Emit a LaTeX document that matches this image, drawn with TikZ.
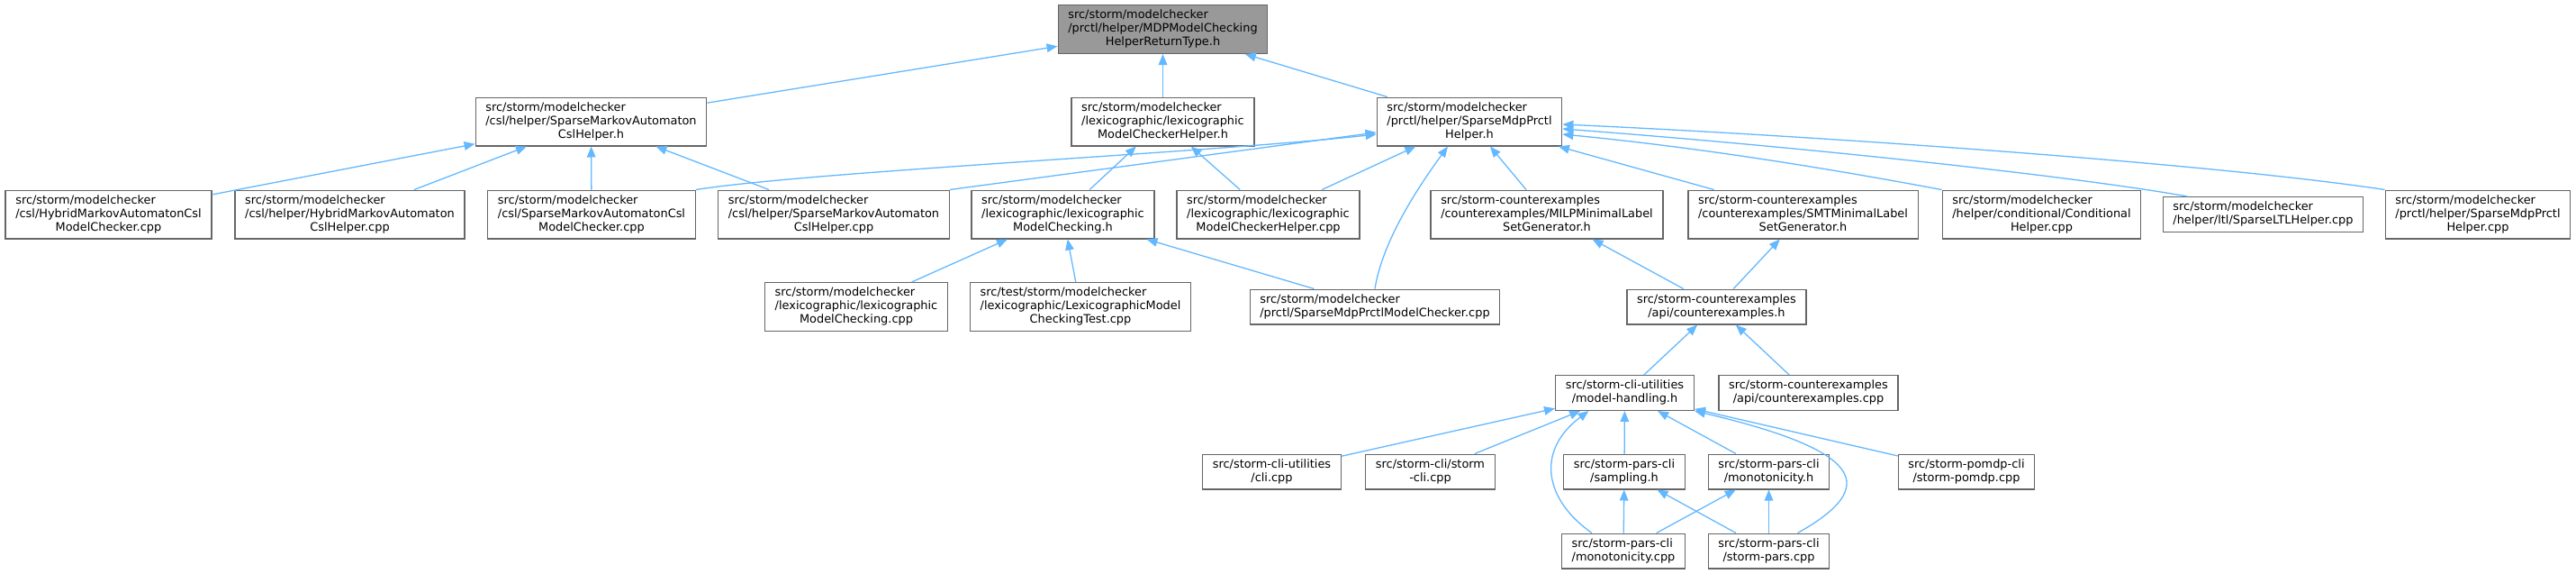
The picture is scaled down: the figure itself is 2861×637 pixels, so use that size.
\documentclass[tikz,border=0pt]{standalone}
\usepackage{fontspec}
\setmainfont{DejaVu Sans}
\usepackage{xcolor}
\usepackage{tikz}
\usetikzlibrary{arrows.meta}
\definecolor{edgeblue}{HTML}{63B8FF}
\definecolor{framegrey}{HTML}{666666}
\definecolor{rootgrey}{HTML}{999999}
% file label: upper lines flush left, last line centred
\newcommand{\fname}[2]{\begin{tabular}{@{}l@{}}#1\\\multicolumn{1}{@{}c@{}}{#2}\end{tabular}}

\begin{document}
\begin{tikzpicture}[
    x=0.5pt, y=-0.5pt,
    file/.style={rectangle, draw=framegrey, line width=0.6pt, fill=white, inner xsep=5.6pt, inner ysep=2.2pt, font=\fontsize{6.45}{7.5}\selectfont},
    root/.style={file, fill=rootgrey},
    dep/.style={draw=edgeblue, line width=0.65pt, -{Triangle[length=6pt, width=4.8pt]}},
]
\useasboundingbox (0,0) rectangle (2861,637);

% rank 0
\node[root] (root) at (1291.5,32.5) {\fname{src/storm/modelchecker\\/prctl/helper/MDPModelChecking}{HelperReturnType.h}};

% rank 1
\node[file] (cslh) at (656.5,135) {\fname{src/storm/modelchecker\\/csl/helper/SparseMarkovAutomaton}{CslHelper.h}};
\node[file] (lexh) at (1291.5,135) {\fname{src/storm/modelchecker\\/lexicographic/lexicographic}{ModelCheckerHelper.h}};
\node[file] (mdph) at (1632,135) {\fname{src/storm/modelchecker\\/prctl/helper/SparseMdpPrctl}{Helper.h}};

% rank 2
\node[file] (hybmc) at (120.5,238) {\fname{src/storm/modelchecker\\/csl/HybridMarkovAutomatonCsl}{ModelChecker.cpp}};
\node[file] (hybh) at (388.5,238) {\fname{src/storm/modelchecker\\/csl/helper/HybridMarkovAutomaton}{CslHelper.cpp}};
\node[file] (spmc) at (657,238) {\fname{src/storm/modelchecker\\/csl/SparseMarkovAutomatonCsl}{ModelChecker.cpp}};
\node[file] (sph) at (926,238) {\fname{src/storm/modelchecker\\/csl/helper/SparseMarkovAutomaton}{CslHelper.cpp}};
\node[file] (lexmc) at (1180.5,238) {\fname{src/storm/modelchecker\\/lexicographic/lexicographic}{ModelChecking.h}};
\node[file] (lexhcpp) at (1408.5,238) {\fname{src/storm/modelchecker\\/lexicographic/lexicographic}{ModelCheckerHelper.cpp}};
\node[file] (milp) at (1718,238) {\fname{src/storm-counterexamples\\/counterexamples/MILPMinimalLabel}{SetGenerator.h}};
\node[file] (smt) at (2002.5,238) {\fname{src/storm-counterexamples\\/counterexamples/SMTMinimalLabel}{SetGenerator.h}};
\node[file] (cond) at (2267.5,238) {\fname{src/storm/modelchecker\\/helper/conditional/Conditional}{Helper.cpp}};
\node[file] (ltl) at (2513.5,238) {\fname{src/storm/modelchecker}{/helper/ltl/SparseLTLHelper.cpp}};
\node[file] (mdphcpp) at (2752,238) {\fname{src/storm/modelchecker\\/prctl/helper/SparseMdpPrctl}{Helper.cpp}};

% rank 3
\node[file] (lexmccpp) at (951,340.5) {\fname{src/storm/modelchecker\\/lexicographic/lexicographic}{ModelChecking.cpp}};
\node[file] (lextest) at (1200,340.5) {\fname{src/test/storm/modelchecker\\/lexicographic/LexicographicModel}{CheckingTest.cpp}};
\node[file] (mdpmc) at (1527,340.5) {\fname{src/storm/modelchecker}{/prctl/SparseMdpPrctlModelChecker.cpp}};
\node[file] (cex) at (1906.5,340.5) {\fname{src/storm-counterexamples}{/api/counterexamples.h}};

% rank 4
\node[file] (mh) at (1804.5,436) {\fname{src/storm-cli-utilities}{/model-handling.h}};
\node[file] (cexcpp) at (2008.5,436) {\fname{src/storm-counterexamples}{/api/counterexamples.cpp}};

% rank 5
\node[file] (cli) at (1412.5,523.5) {\fname{src/storm-cli-utilities}{/cli.cpp}};
\node[file] (stormcli) at (1588.5,523.5) {\fname{src/storm-cli/storm}{-cli.cpp}};
\node[file] (samp) at (1804,523.5) {\fname{src/storm-pars-cli}{/sampling.h}};
\node[file] (mono) at (1964.5,523.5) {\fname{src/storm-pars-cli}{/monotonicity.h}};
\node[file] (pomdp) at (2184,523.5) {\fname{src/storm-pomdp-cli}{/storm-pomdp.cpp}};

% rank 6
\node[file] (monocpp) at (1803,611.5) {\fname{src/storm-pars-cli}{/monotonicity.cpp}};
\node[file] (pars) at (1964.5,611.5) {\fname{src/storm-pars-cli}{/storm-pars.cpp}};

% includes
\draw[dep] (cslh) -- (root);
\draw[dep] (lexh) -- (root);
\draw[dep] (mdph) -- (root);

\draw[dep] (hybmc) -- (cslh);
\draw[dep] (hybh) -- (cslh);
\draw[dep] (spmc) -- (cslh);
\draw[dep] (sph) -- (cslh);
\draw[dep] (spmc.north east) .. controls +(127,-20) and +(-179,20) .. ([yshift=-7pt]mdph.west);
\draw[dep] (sph.north east) -- ([yshift=-6pt]mdph.west);
\draw[dep] (lexmc) -- (lexh);
\draw[dep] (lexhcpp) -- (lexh);
\draw[dep] (lexhcpp) -- (mdph);
\draw[dep] (mdpmc.north) .. controls +(8,-50) and +(-38,52) .. ([xshift=-12pt]mdph.south);
\draw[dep] (milp) -- (mdph);
\draw[dep] (smt) -- (mdph);
\draw[dep] (cond.north west) .. controls +(-107,-20) and +(165,16) .. ([yshift=-7pt]mdph.east);
\draw[dep] ([xshift=14pt]ltl.north west) .. controls +(-130,-23) and +(265,20) .. ([yshift=-4pt]mdph.east);
\draw[dep] (mdphcpp.north west) .. controls +(-199,-30) and +(265,12) .. ([yshift=-1.5pt]mdph.east);

\draw[dep] (lexmccpp) -- (lexmc);
\draw[dep] (lextest) -- (lexmc);
\draw[dep] (mdpmc) -- (lexmc);
\draw[dep] (cex) -- (milp);
\draw[dep] (cex) -- (smt);

\draw[dep] (mh) -- (cex);
\draw[dep] (cexcpp) -- (cex);

\draw[dep] (cli) -- (mh);
\draw[dep] (stormcli) -- (mh);
\draw[dep] (samp) -- (mh);
\draw[dep] (mono) -- (mh);
\draw[dep] (pomdp) -- (mh);
\draw[dep] ([xshift=-17.5pt]monocpp.north) .. controls +(-53,-37) and +(-59,44) .. ([xshift=-20pt]mh.south);
\draw[dep] ([xshift=16pt]pars.north) .. controls +(93,-52) and +(187,44) .. (mh.south east);

\draw[dep] (monocpp) -- (samp);
\draw[dep] (pars) -- (samp);
\draw[dep] (monocpp) -- (mono);
\draw[dep] (pars) -- (mono);

\end{tikzpicture}
\end{document}
